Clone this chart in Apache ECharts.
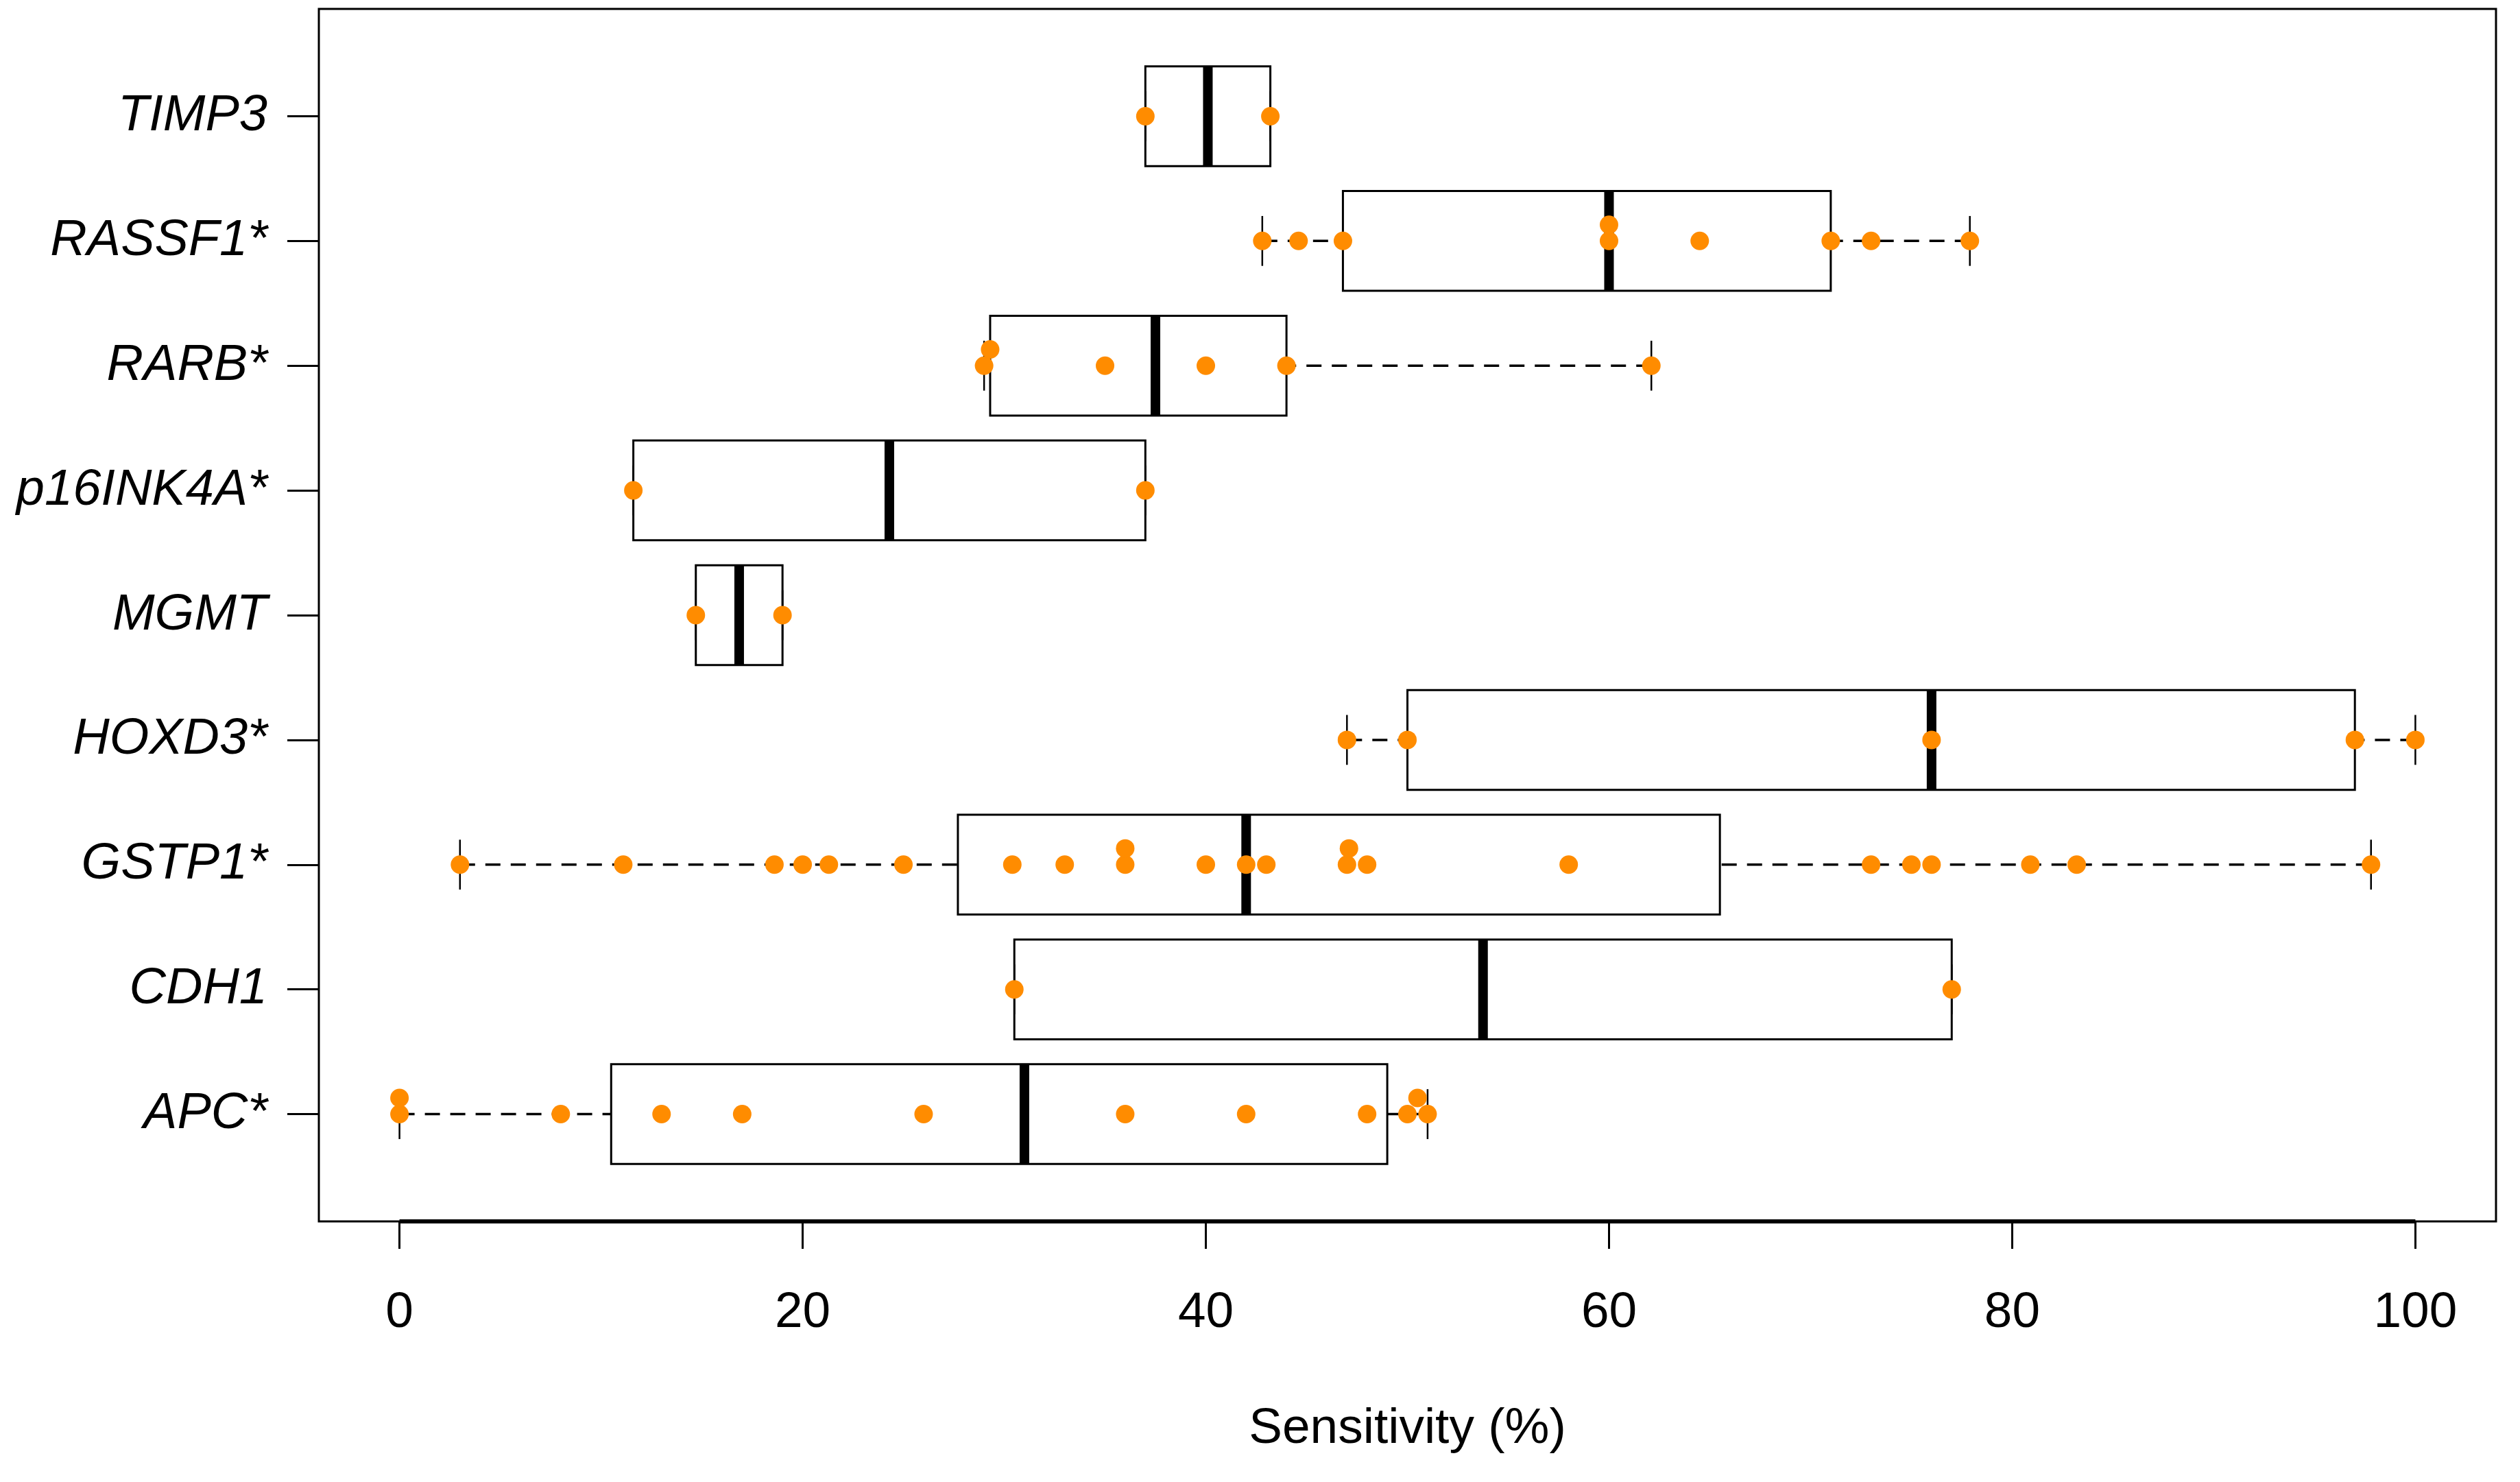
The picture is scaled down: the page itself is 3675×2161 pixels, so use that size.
<!DOCTYPE html>
<html>
<head>
<meta charset="utf-8">
<script src="https://cdn.jsdelivr.net/npm/echarts@6/dist/echarts.min.js"></script>
<style>
html, body { margin: 0; padding: 0; background: #fff; }
#chart { width: 3675px; height: 2161px; }
</style>
</head>
<body>
<div id="chart"></div>
<script>
// Categories from bottom (1) to top (9)
const categories = ['APC*', 'CDH1', 'GSTP1*', 'HOXD3*', 'MGMT', 'p16INK4A*', 'RARB*', 'RASSF1*', 'TIMP3'];

// Sensitivity values (%) per gene
const apc    = [0, 0, 8, 13, 17, 26, 36, 42, 48, 50, 50.5, 51];
const cdh1   = [30.5, 77];
const gstp1  = [3, 11.1, 18.6, 20, 21.3, 25, 30.4, 33, 36, 36, 40, 42, 43, 47, 47.1, 48, 58, 73, 75, 76, 80.9, 83.2, 97.8];
const hoxd3  = [47, 50, 76, 97, 100];
const mgmt   = [14.7, 19.0];
const p16    = [11.6, 37];
const rarb   = [29.0, 29.3, 35, 40, 44, 62.1];
const rassf1 = [42.8, 44.6, 46.8, 60, 60, 64.5, 71, 73, 77.9];
const timp3  = [37, 43.2];

const geneValues = [apc, cdh1, gstp1, hoxd3, mgmt, p16, rarb, rassf1, timp3];

// Axis ticks
const xTicks = [0, 20, 40, 60, 80, 100];
const yTicks = [1, 2, 3, 4, 5, 6, 7, 8, 9];

// Tukey five-number summary (as R's fivenum)
function fivenum(arr) {
  const x = arr.slice().sort((a, b) => a - b);
  const n = x.length;
  const n4 = Math.floor((n + 3) / 2) / 2;
  const d = [1, n4, (n + 1) / 2, n + 1 - n4, n];
  return d.map(k => 0.5 * (x[Math.floor(k) - 1] + x[Math.ceil(k) - 1]));
}

const boxData = geneValues.map((vals, i) => {
  const f = fivenum(vals);
  const iqr = f[3] - f[1];
  const inRange = vals.filter(v => v >= f[1] - 1.5 * iqr && v <= f[3] + 1.5 * iqr);
  const lo = Math.min.apply(null, inRange);
  const hi = Math.max.apply(null, inRange);
  return [i + 1, lo, f[1], f[2], f[3], hi];
});

// Points, stacked when (nearly) coincident
const stackTol = 0.6, stackStep = 0.13;
const pointData = [];
geneValues.forEach((vals, i) => {
  const placed = [];
  vals.forEach(v => {
    const used = placed.filter(p => Math.abs(p.v - v) < stackTol).map(p => p.level);
    let level = 0;
    while (used.indexOf(level) >= 0) level++;
    placed.push({ v: v, level: level });
    pointData.push([v, i + 1 + level * stackStep]);
  });
});

const yMin = 0.14, yMax = 9.86;
const boxHalf = 0.4;
const FONT = 'Liberation Sans, Arial, sans-serif';

const chart = echarts.init(document.getElementById('chart'), null, { renderer: 'canvas' });
chart.setOption({
  animation: false,
  backgroundColor: '#ffffff',
  grid: {
    left: 465, right: 35, top: 13, bottom: 380,
    show: true, borderColor: '#000', borderWidth: 3, backgroundColor: 'transparent'
  },
  xAxis: {
    type: 'value', min: -4, max: 104,
    name: 'Sensitivity (%)', nameLocation: 'middle', nameGap: 266,
    nameTextStyle: { fontFamily: FONT, fontSize: 73, color: '#000' },
    axisLine: { show: false, onZero: false },
    splitLine: { show: false },
    axisTick: { show: true, customValues: xTicks, length: 40, lineStyle: { color: '#000', width: 3 } },
    axisLabel: { customValues: xTicks, margin: 97, fontFamily: FONT, fontSize: 73, color: '#000' }
  },
  yAxis: {
    type: 'value', min: yMin, max: yMax,
    axisLine: { show: false, onZero: false },
    splitLine: { show: false },
    axisTick: { show: true, customValues: yTicks, length: 46, lineStyle: { color: '#000', width: 3 } },
    axisLabel: {
      customValues: yTicks, margin: 75, fontFamily: FONT, fontSize: 74, fontStyle: 'italic', color: '#000',
      formatter: v => categories[Math.round(v) - 1]
    }
  },
  series: [
    {
      type: 'custom',
      z: 2,
      data: boxData,
      renderItem: function (params, api) {
        const y = api.value(0);
        const pLo = api.coord([api.value(1), y]);
        const pQ1 = api.coord([api.value(2), y]);
        const pMed = api.coord([api.value(3), y]);
        const pQ3 = api.coord([api.value(4), y]);
        const pHi = api.coord([api.value(5), y]);
        const h = api.size([0, boxHalf])[1];
        const black = '#000';
        return {
          type: 'group',
          children: [
            { type: 'line', shape: { x1: pLo[0], y1: pLo[1], x2: pQ1[0], y2: pQ1[1] },
              style: { stroke: black, lineWidth: 3.5, lineDash: [22, 15] } },
            { type: 'line', shape: { x1: pHi[0], y1: pHi[1], x2: pQ3[0], y2: pQ3[1] },
              style: { stroke: black, lineWidth: 3.5, lineDash: [22, 15] } },
            { type: 'line', shape: { x1: pLo[0], y1: pLo[1] - h / 2, x2: pLo[0], y2: pLo[1] + h / 2 },
              style: { stroke: black, lineWidth: 2.5 } },
            { type: 'line', shape: { x1: pHi[0], y1: pHi[1] - h / 2, x2: pHi[0], y2: pHi[1] + h / 2 },
              style: { stroke: black, lineWidth: 2.5 } },
            { type: 'rect', shape: { x: pQ1[0], y: pQ1[1] - h, width: pQ3[0] - pQ1[0], height: 2 * h },
              style: { fill: 'rgba(255,255,255,0)', stroke: black, lineWidth: 3 } },
            { type: 'line', shape: { x1: pMed[0], y1: pMed[1] - h, x2: pMed[0], y2: pMed[1] + h },
              style: { stroke: black, lineWidth: 14 } }
          ]
        };
      }
    },
    {
      type: 'line',
      z: 4,
      clip: false,
      symbol: 'none',
      silent: true,
      data: [[xTicks[0], yMin], [xTicks[xTicks.length - 1], yMin]],
      lineStyle: { color: '#000', width: 6 }
    },
    {
      type: 'scatter',
      z: 5,
      data: pointData,
      symbol: 'circle',
      symbolSize: 27,
      itemStyle: { color: '#FF8C00', opacity: 1 }
    }
  ]
});
</script>
</body>
</html>
